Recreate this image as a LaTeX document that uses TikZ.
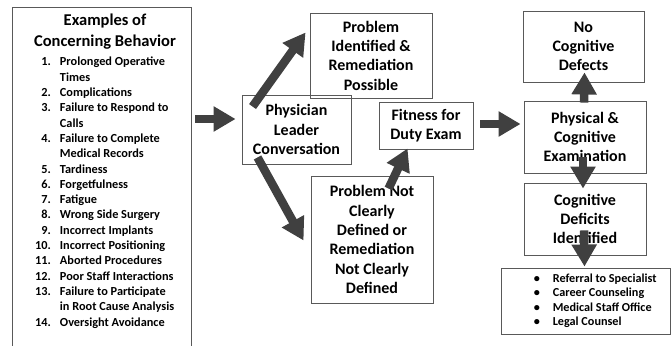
\documentclass[tikz,border=0pt]{standalone}
\usepackage{fontspec}
\setmainfont{Carlito}
\usetikzlibrary{arrows.meta,calc}
\tikzset{
  box/.style={draw=black!65, line width=0.9pt, inner sep=0pt, align=center, font=\bfseries\fontsize{16}{19.3}\selectfont},
  fat/.style={draw=black!75, line width=8.5pt, -{Triangle[length=22pt,width=24pt]}},
  lbl/.style={inner sep=0pt, align=center}
}
\begin{document}
\begin{tikzpicture}[x=1pt,y=-1pt]
\clip (0,0) rectangle (671,345);
\fill[white] (0,0) rectangle (671,345);
% left box
\node[box, minimum width=179pt, minimum height=343pt] (ex) at (101.5,178.5) {};
\node[lbl, font=\bfseries\fontsize{16.5}{21}\selectfont, anchor=north] (extitle) at (105,14) {Examples of\\Concerning Behavior};
\node[lbl, anchor=north west, font=\bfseries\fontsize{12.3}{15.3}\selectfont] (exlist) at (35,55) {%
\begin{tabular}{@{}r@{\hspace{9pt}}l@{}}
1. & Prolonged Operative\\
   & Times\\
2. & Complications\\
3. & Failure to Respond to\\
   & Calls\\
4. & Failure to Complete\\
   & Medical Records\\
5. & Tardiness\\
6. & Forgetfulness\\
7. & Fatigue\\
8. & Wrong Side Surgery\\
9. & Incorrect Implants\\
10. & Incorrect Positioning\\
11. & Aborted Procedures\\
12. & Poor Staff Interactions\\
13. & Failure to Participate\\
   & in Root Cause Analysis\\
14. & Oversight Avoidance
\end{tabular}};
% boxes
\node[box, minimum width=109pt, minimum height=69pt] (phys) at (296.5,129.5) {Physician\\Leader\\Conversation};
\node[box, minimum width=122pt, minimum height=85pt] (pid) at (371,55.5) {Problem\\Identified \&\\Remediation\\Possible};
\node[box, minimum width=94pt, minimum height=47pt] (fit) at (426,125.5) {Fitness for\\Duty Exam};
\node[box, minimum width=122pt, minimum height=127pt] (pnc) at (372,239.5) {Problem Not\\Clearly\\Defined or\\Remediation\\Not Clearly\\Defined};
\node[box, minimum width=121pt, minimum height=71pt] (ncd) at (583.5,46.5) {No\\Cognitive\\Defects};
\node[box, minimum width=122pt, minimum height=72pt] (pce) at (585,137) {Physical \&\\Cognitive\\Examination};
\node[box, minimum width=122pt, minimum height=72pt] (cdi) at (585,219) {Cognitive\\Deficits\\Identified};
\node[box, minimum width=169pt, minimum height=66pt] (act) at (585.5,301) {};
\node[lbl, anchor=west, font=\bfseries\fontsize{12.2}{14.6}\selectfont, align=left] (actlist) at ($(act.west)+(33,0)$) {%
\begin{tabular}{@{}l@{\hspace{13pt}}l@{}}
\textbullet & Referral to Specialist\\
\textbullet & Career Counseling\\
\textbullet & Medical Staff Office\\
\textbullet & Legal Counsel
\end{tabular}};
% arrows
\draw[fat] ($(ex.east|-phys.west)+(4,-10.5)$) -- ($(phys.west)+(-6,-10.5)$);
\draw[fat] ($(phys.north west)+(11,12)$) -- ($(pid.west)+(-4,-23)$);
\draw[fat] ($(phys.south west)+(16,-7)$) -- ($(pnc.west)+(-7,1)$);
\draw[fat] ($(pnc.north west)+(78,13)$) -- ($(fit.south west)+(29,-1)$);
\draw[fat] ($(fit.east)+(7,-1.5)$) -- ($(pce.west)+(-3,-13)$);
\draw[fat] ($(pce.north)+(-1,2)$) -- ($(ncd.south)+(1,-10)$);
\draw[fat] ($(pce.south)+(-2,-16)$) -- ($(cdi.north)+(-2,6)$);
\draw[fat] ($(cdi.south)+(-1,-25)$) -- ($(act.north)+(-1,-1)$);
\end{tikzpicture}
\end{document}
